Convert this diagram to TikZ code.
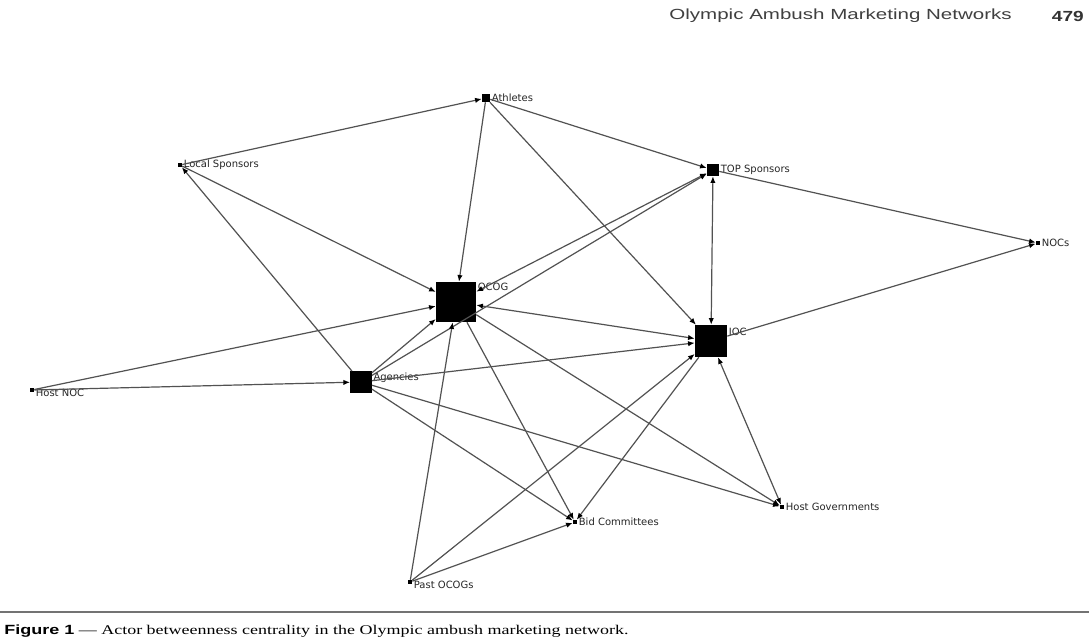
\documentclass[tikz,border=0pt]{standalone}
\usepackage{fontspec}
\setmainfont{Liberation Serif}
\newfontfamily\labfont{DejaVu Sans}
\newfontfamily\headfont{Liberation Sans}
\usetikzlibrary{arrows.meta}
\tikzset{
    actor/.style={fill=black,inner sep=0,minimum size=#1},
    lab/.style={font=\labfont\fontsize{7.5}{9}\selectfont,inner sep=1pt,text=black!85},
    link/.style={draw=black!68,line width=0.9pt,-{Latex[length=5pt,width=4pt,color=black]}},
    twoway/.style={link,{Latex[length=5pt,width=4pt,color=black]}-{Latex[length=5pt,width=4pt,color=black]}}
}

\begin{document}
\begin{tikzpicture}[x=0.75pt,y=-0.75pt]
            \fill[white] (0,0) rectangle (1089,642);
            \useasboundingbox (0,0) rectangle (1089,642);
            % actors
            \node[actor=6pt,label={[lab]right:Athletes}] (ath) at (486,98) {};
            \node[actor=3pt,label={[lab]right:Local Sponsors}] (loc) at (180,165) {};
            \node[actor=9pt,label={[lab]right:TOP Sponsors}] (top) at (713,170) {};
            \node[actor=3pt,label={[lab]right:NOCs}] (nocs) at (1038,243) {};
            \node[actor=30pt,label={[lab,yshift=11pt]right:OCOG}] (ocog) at (456,302) {};
            \node[actor=24pt,label={[lab,yshift=7pt]right:IOC}] (ioc) at (711,341) {};
            \node[actor=16pt,label={[lab,yshift=3pt]right:Agencies}] (agen) at (361,382) {};
            \node[actor=3pt,label={[lab,yshift=-2pt]right:Host NOC}] (hnoc) at (32,390) {};
            \node[actor=3pt,label={[lab]right:Bid Committees}] (bid) at (575,522) {};
            \node[actor=3pt,label={[lab]right:Host Governments}] (hgov) at (782,507) {};
            \node[actor=3pt,label={[lab,yshift=-2pt]right:Past OCOGs}] (past) at (410,582) {};
            % ties
            \foreach \a/\b in {loc/ath,loc/ocog,agen/loc,ath/ocog,ath/top,ath/ioc,top/nocs,ioc/nocs,
                hnoc/ocog,hnoc/agen,agen/ocog,agen/top,agen/ioc,agen/bid,agen/hgov,
                ocog/bid,ocog/hgov,past/ocog,past/ioc,past/bid,ioc/bid}
                \draw[link] (\a) -- (\b);
            \foreach \a/\b in {top/ioc,ioc/hgov,ocog/top,ocog/ioc}
                \draw[twoway] (\a) -- (\b);
            % page furniture
            \node[anchor=east,inner sep=0] (head) at (1012,16) {\scalebox{1.4}[1]{\headfont\fontsize{11}{13}\selectfont\color{black!75}Olympic Ambush Marketing Networks}};
            \node[anchor=east,inner sep=0] (page) at (1084,16) {\scalebox{1.3}[1]{\headfont\bfseries\fontsize{11}{13}\selectfont\color{black!80}479}};
            \coordinate (rl) at (0,612);
            \coordinate (rr) at (1089,612);
            \draw[black!55,line width=1.2pt] (rl) -- (rr);
            \node[anchor=west,inner sep=0] (cap) at (4,631) {\scalebox{1.35}[1]{\fontsize{10}{12}\selectfont{\headfont\bfseries Figure 1} --- Actor betweenness centrality in the Olympic ambush marketing network.}};
\end{tikzpicture}
\end{document}
